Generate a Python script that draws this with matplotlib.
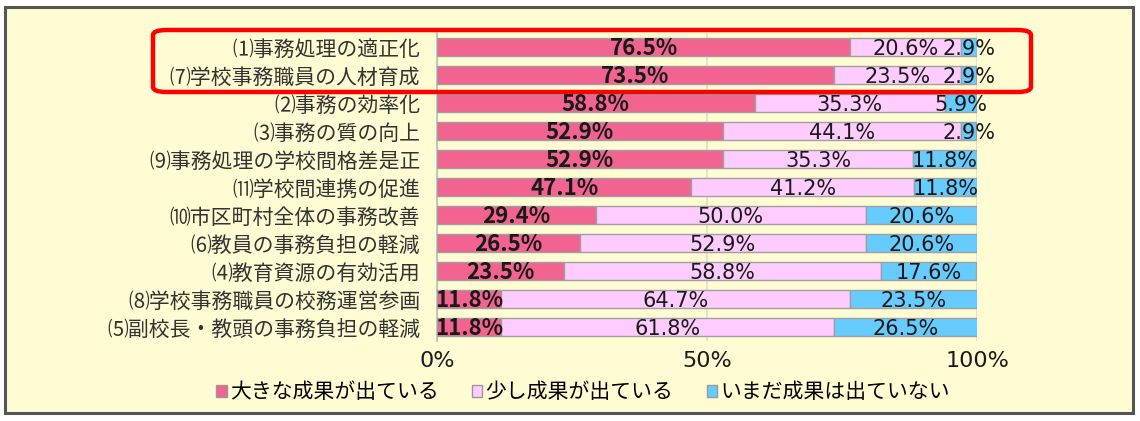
import matplotlib
matplotlib.use("Agg")
import matplotlib.pyplot as plt
from matplotlib.patches import FancyBboxPatch, Rectangle
import numpy as np

plt.rcParams['font.family'] = ['Noto Sans CJK JP', 'DejaVu Sans']

categories = [
    "⑴事務処理の適正化",
    "⑺学校事務職員の人材育成",
    "⑵事務の効率化",
    "⑶事務の質の向上",
    "⑼事務処理の学校間格差是正",
    "⑾学校間連携の促進",
    "⑽市区町村全体の事務改善",
    "⑹教員の事務負担の軽減",
    "⑷教育資源の有効活用",
    "⑻学校事務職員の校務運営参画",
    "⑸副校長・教頭の事務負担の軽減",
]
large = [76.5, 73.5, 58.8, 52.9, 52.9, 47.1, 29.4, 26.5, 23.5, 11.8, 11.8]
some = [20.6, 23.5, 35.3, 44.1, 35.3, 41.2, 50.0, 52.9, 58.8, 64.7, 61.8]
none_ = [2.9, 2.9, 5.9, 2.9, 11.8, 11.8, 20.6, 20.6, 17.6, 23.5, 26.5]
series_names = ["大きな成果が出ている", "少し成果が出ている", "いまだ成果は出ていない"]
xticks = [0, 50, 100]
xtick_labels = ["0%", "50%", "100%"]

colors = ["#F2638F", "#FFCCFF", "#66CCFF"]
bg = "#FFFBD2"
numfont = ["DejaVu Sans"]
boldfont = ["Noto Sans CJK JP"]

fig = plt.figure(figsize=(11.4, 4.21), dpi=100)
fig.patch.set_facecolor("white")
# outer frame
fig.patches.append(Rectangle((5/1140, 1-413/421), 1128/1140, 406/421,
                             transform=fig.transFigure, facecolor=bg,
                             edgecolor="#555555", linewidth=2.2, zorder=-5))

ax = fig.add_axes([437/1140, 1-341/421, 540/1140, 308/421])
ax.set_facecolor("none")
y = np.arange(len(categories))
h = 0.61
left = np.zeros(len(categories))
for vals, c, name in zip([large, some, none_], colors, series_names):
    ax.barh(y, vals, left=left, height=h, color=c, edgecolor="#A0A0A0",
            linewidth=1.0, label=name, zorder=3)
    left = left + np.array(vals)

for i in range(len(categories)):
    ax.text(large[i] / 2, y[i] + 0.29, f"{large[i]:.1f}%", ha="center",
            va="baseline", fontsize=16, fontweight="bold", color="#1A1A1A",
            zorder=5, family=boldfont)
    ax.text(large[i] + some[i] / 2, y[i] + 0.27, f"{some[i]:.1f}%", ha="center",
            va="baseline", fontsize=15, color="#1A1A1A", zorder=5, family=numfont)
    ax.text(large[i] + some[i] + none_[i] / 2, y[i] + 0.27, f"{none_[i]:.1f}%",
            ha="center", va="baseline", fontsize=15, color="#1A1A1A", zorder=5,
            family=numfont)

ax.set_xlim(0, 100)
ax.set_ylim(len(categories) - 0.5, -0.5)
ax.set_yticks(y)
ax.set_yticklabels(categories, fontsize=15, color="#333333")
ax.set_xticks(xticks)
ax.set_xticklabels(xtick_labels, fontsize=16, color="#1A1A1A", family=numfont)
ax.tick_params(axis="both", length=0)
ax.tick_params(axis="y", pad=12)
ax.tick_params(axis="x", pad=7)
for s in ["top", "right", "bottom"]:
    ax.spines[s].set_visible(False)
ax.spines["left"].set_color("#BBBBBB")
ax.spines["left"].set_linewidth(1.2)
ax.grid(axis="x", color="#DDDDCC", linewidth=1.2, zorder=0)
ax.set_axisbelow(True)

leg = fig.legend(loc="center", bbox_to_anchor=(583/1140, 1-392/421), ncol=3,
                 frameon=False, fontsize=15, handlelength=0.5, handleheight=0.5,
                 handletextpad=0.15, columnspacing=1.6)
for p in leg.get_patches():
    p.set_edgecolor("#999999")

# red rounded highlight box
fig.patches.append(FancyBboxPatch((153/1140, 1-92/421), 878/1140, 62/421,
                                  boxstyle="round,pad=0,rounding_size=0.012",
                                  transform=fig.transFigure, facecolor="none",
                                  edgecolor="#FF0000", linewidth=3.2, zorder=10))

fig.savefig("out.png", dpi=100, facecolor=fig.get_facecolor())
